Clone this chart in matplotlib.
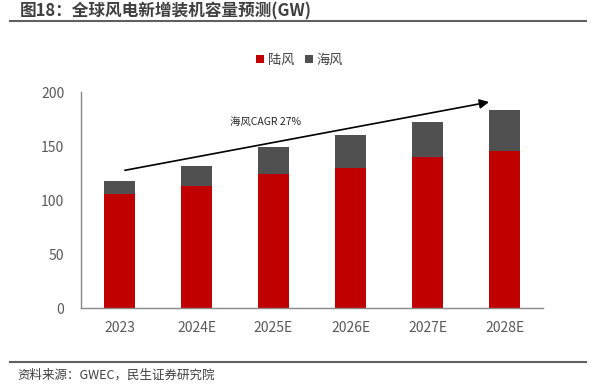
import matplotlib
matplotlib.use("Agg")
import matplotlib.pyplot as plt
from matplotlib.lines import Line2D
from matplotlib.patches import Patch

plt.rcParams['font.family'] = ['Noto Sans CJK SC', 'DejaVu Sans']

categories = ['2023', '2024E', '2025E', '2026E', '2027E', '2028E']
onshore = [106, 113, 124, 130, 140, 145]
offshore = [12, 19, 25, 30, 32, 38]
series_names = ['陆风', '海风']
title = '图18：全球风电新增装机容量预测(GW)'
source = '资料来源：GWEC，民生证券研究院'
annot = '海风CAGR 27%'
yticks = [0, 50, 100, 150, 200]

red = '#C00000'
gray = '#505050'
tick_color = '#595959'

fig = plt.figure(figsize=(6.02, 3.85), dpi=100)
ax = fig.add_axes([81/602, 1-308.3/385, (543-81)/602, (308.3-92)/385])

x = list(range(len(categories)))
ax.bar(x, onshore, width=0.41, color=red, label=series_names[0], zorder=2)
ax.bar(x, offshore, width=0.41, bottom=onshore, color=gray, label=series_names[1], zorder=2)

ax.set_xlim(-0.5, len(categories) - 0.5)
ax.set_ylim(0, 200)
ax.set_yticks(yticks)
ax.set_xticks(x)
ax.set_xticklabels(categories)
ax.tick_params(axis='both', length=0, labelsize=10, colors=tick_color)
ax.tick_params(axis='x', pad=9)
ax.tick_params(axis='y', pad=12)
for s in ['top', 'right']:
    ax.spines[s].set_visible(False)
for s in ['left', 'bottom']:
    ax.spines[s].set_color('#898989')
    ax.spines[s].set_linewidth(1.0)

# trend arrow
ax.annotate('', xy=(4.80, 190.7), xytext=(0.07, 127.6),
            arrowprops=dict(arrowstyle='-|>', color='black', lw=1.2,
                            mutation_scale=14, shrinkA=0, shrinkB=0), zorder=3)
ax.text(1.9, 172.5, annot, fontsize=7.5, ha='center', va='center', color='#262626')

# legend
handles = [Patch(facecolor=red), Patch(facecolor=gray)]
fig.legend(handles, series_names, loc='center', bbox_to_anchor=(0.498, 1-60/385),
           ncol=2, frameon=False, fontsize=9.5, handlelength=0.6, handleheight=0.6,
           handletextpad=0.3, columnspacing=0.8, labelcolor='#404040')

# title and lines
fig.text(20/602, 1-11/385, title, fontsize=12, fontweight='bold', color='#404040',
         ha='left', va='center')
fig.add_artist(Line2D([10/602, 586/602], [1-21/385, 1-21/385], color='#606060', lw=1.5))
fig.add_artist(Line2D([10/602, 586/602], [1-362/385, 1-362/385], color='#606060', lw=1.5))
fig.text(17/602, 1-375/385, source, fontsize=9, color='#404040', ha='left', va='center')

fig.savefig('out.png', dpi=100)
